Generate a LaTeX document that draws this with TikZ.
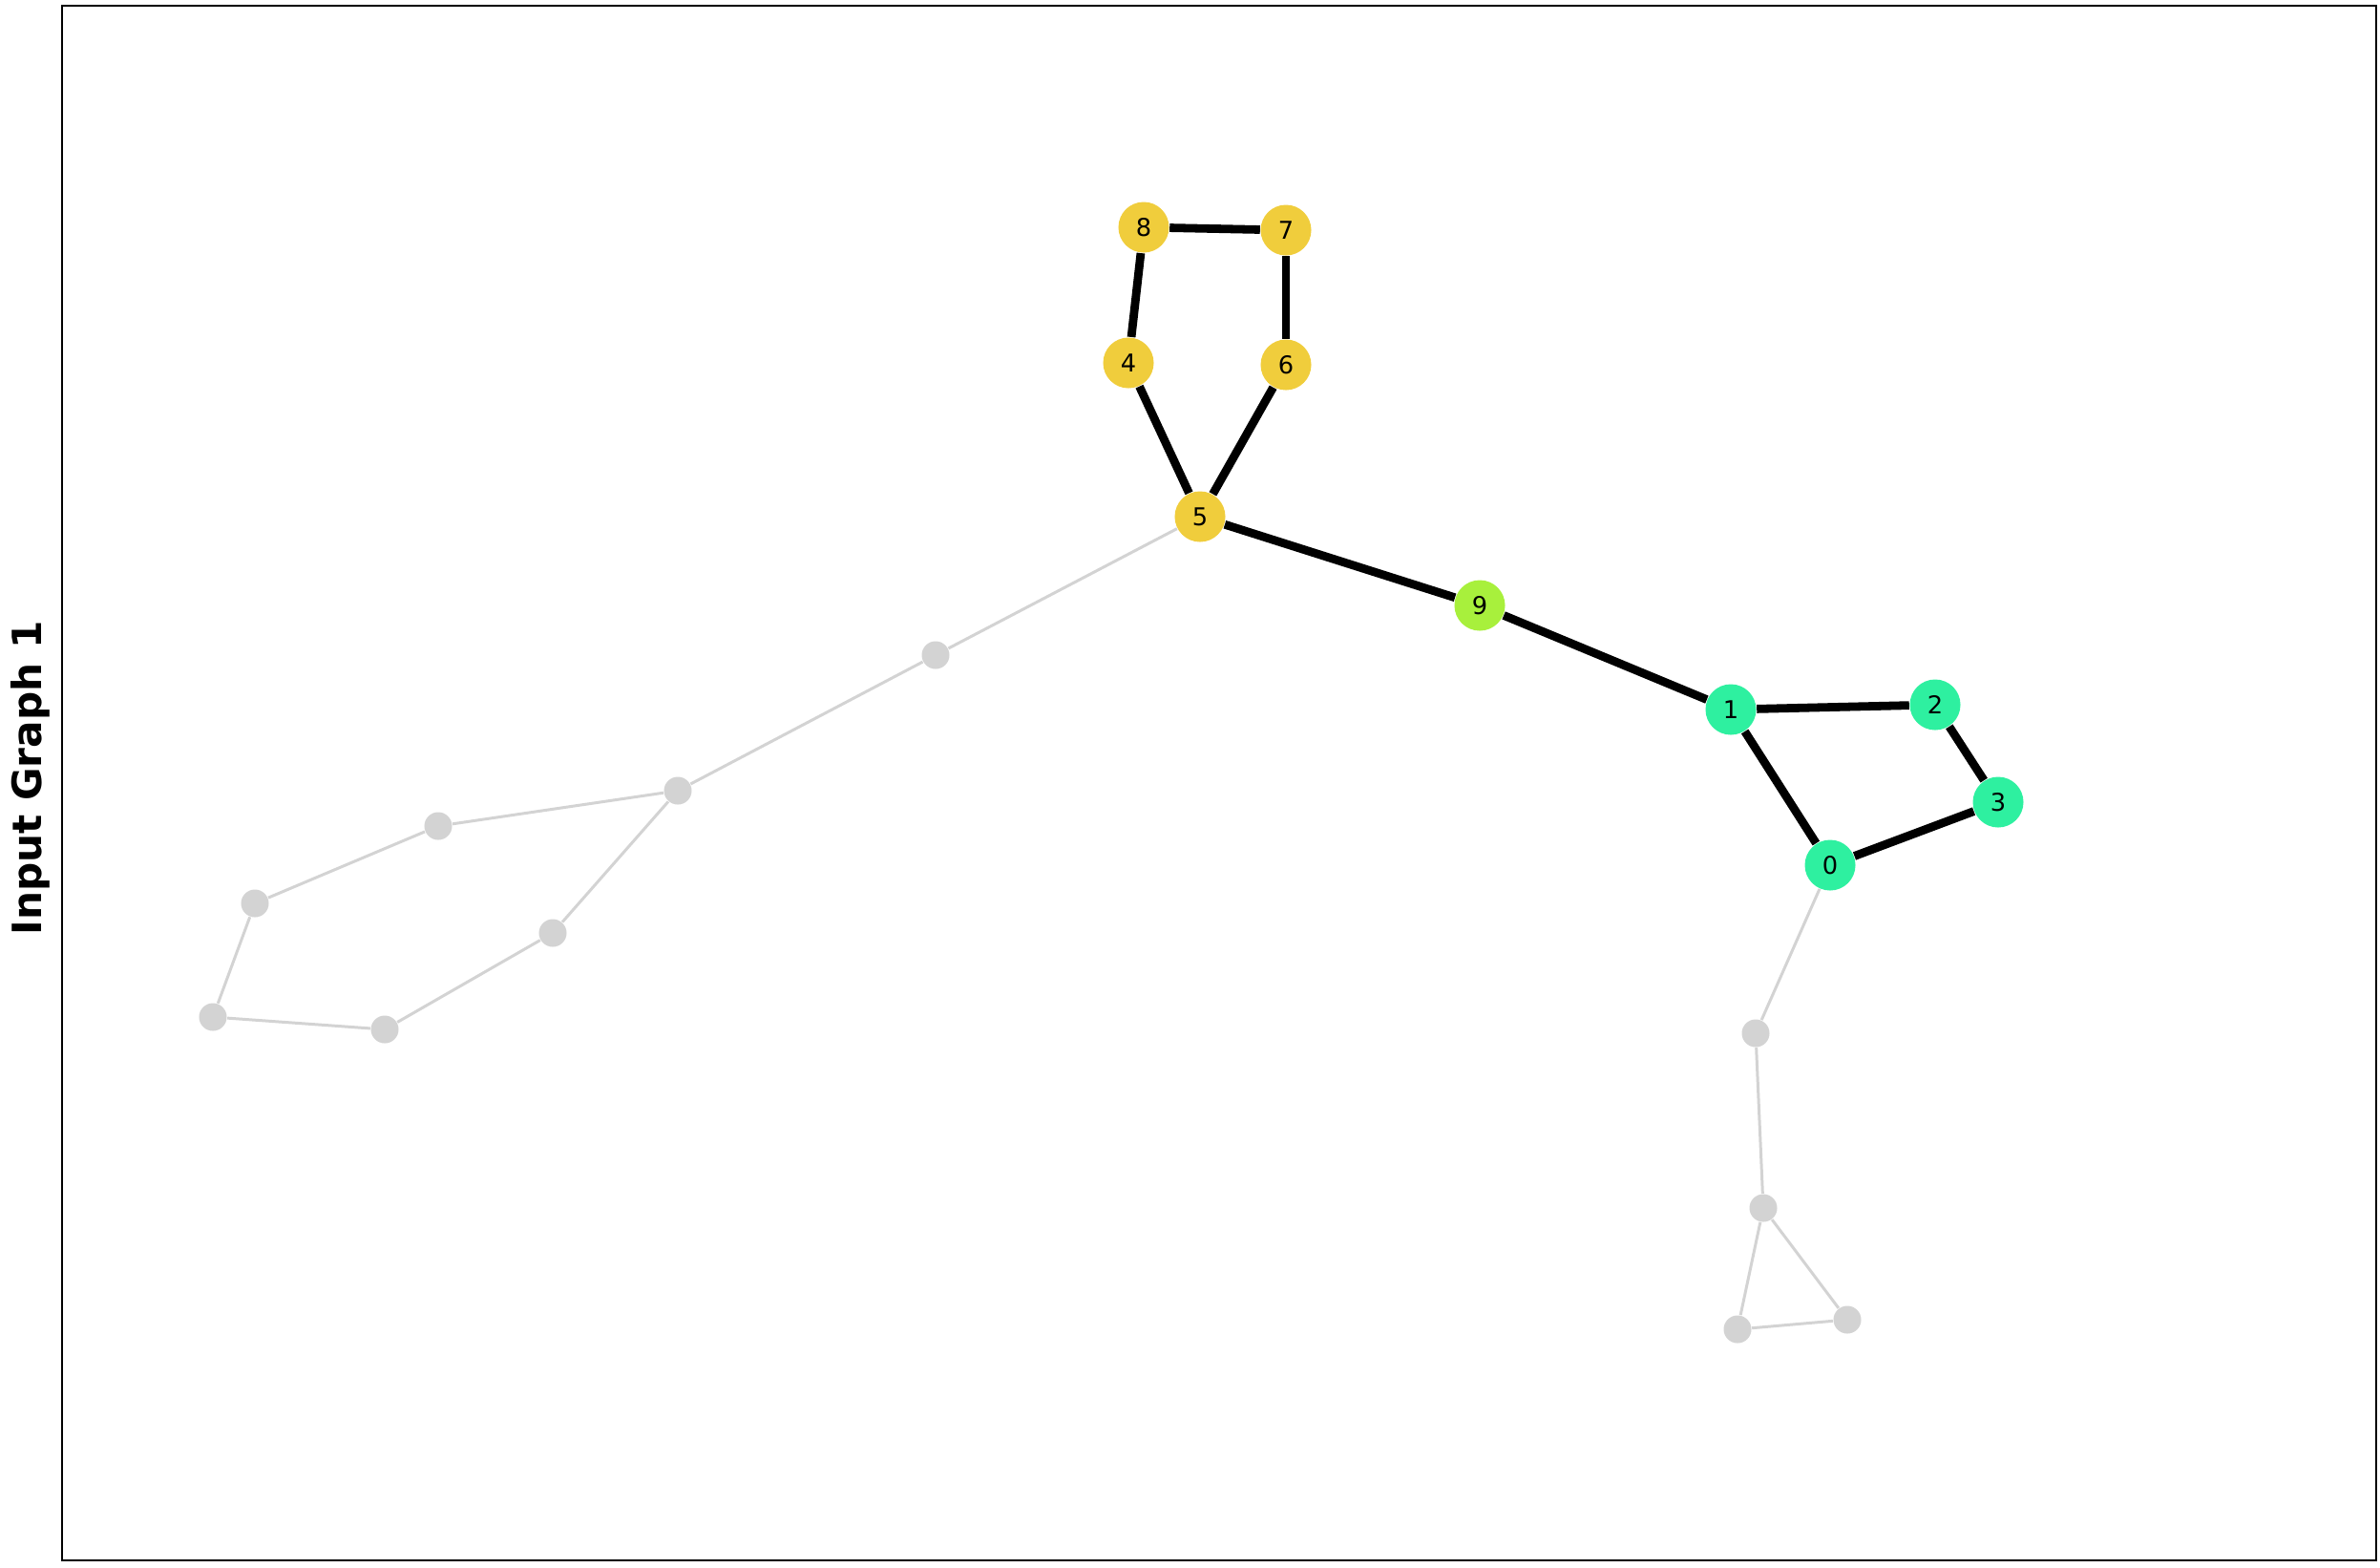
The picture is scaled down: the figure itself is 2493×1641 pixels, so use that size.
\documentclass[tikz,border=0pt]{standalone}
\usepackage{fontspec}
\setmainfont{DejaVu Sans}
\definecolor{ringyellow}{HTML}{F0CD3C}
\definecolor{ringgreen}{HTML}{2EF0A0}
\definecolor{bridgelime}{HTML}{A8F03C}
\definecolor{restgray}{HTML}{D3D3D3}
\begin{document}
\begin{tikzpicture}[x=0.01cm,y=-0.01cm,
  main/.style = {circle, inner sep=0pt, minimum size=0.53cm, font=\fontsize{7.3}{8}\selectfont},
  rest/.style = {circle, fill=restgray, inner sep=0pt, minimum size=0.29cm},
  hit/.style = {line width=2.5pt, black},
  miss/.style = {line width=0.85pt, restgray}]
        \useasboundingbox (0,0) rectangle (2493,1641);
        \draw[line width=0.6pt] (65,6) rectangle (2489,1634);
        \node[rotate=90, font=\fontsize{12}{14}\selectfont\bfseries] (title) at (32,815) {Input Graph 1};
        % grey part of the graph
        \node[rest] (a) at (980,686) {};
        \node[rest] (b) at (710,828) {};
        \node[rest] (c) at (459,865) {};
        \node[rest] (d) at (267,946) {};
        \node[rest] (e) at (223,1065) {};
        \node[rest] (f) at (403,1078) {};
        \node[rest] (g) at (579,977) {};
        \node[rest] (h) at (1839,1082) {};
        \node[rest] (i) at (1847,1265) {};
        \node[rest] (j) at (1820,1392) {};
        \node[rest] (k) at (1935,1382) {};
        % matched part
        \node[main, fill=ringgreen] (0) at (1917,906) {0};
        \node[main, fill=ringgreen] (1) at (1813,743) {1};
        \node[main, fill=ringgreen] (2) at (2027,738) {2};
        \node[main, fill=ringgreen] (3) at (2093,840) {3};
        \node[main, fill=ringyellow] (4) at (1182,380) {4};
        \node[main, fill=ringyellow] (5) at (1257,541) {5};
        \node[main, fill=ringyellow] (6) at (1347,382) {6};
        \node[main, fill=ringyellow] (7) at (1347,241) {7};
        \node[main, fill=ringyellow] (8) at (1198,238) {8};
        \node[main, fill=bridgelime] (9) at (1550,634) {9};
        \draw[miss] (5) -- (a);
        \draw[miss] (a) -- (b);
        \draw[miss] (b) -- (c);
        \draw[miss] (c) -- (d);
        \draw[miss] (d) -- (e);
        \draw[miss] (e) -- (f);
        \draw[miss] (f) -- (g);
        \draw[miss] (g) -- (b);
        \draw[miss] (0) -- (h);
        \draw[miss] (h) -- (i);
        \draw[miss] (i) -- (j);
        \draw[miss] (j) -- (k);
        \draw[miss] (k) -- (i);
        \draw[hit] (8) -- (7);
        \draw[hit] (8) -- (4);
        \draw[hit] (7) -- (6);
        \draw[hit] (4) -- (5);
        \draw[hit] (6) -- (5);
        \draw[hit] (5) -- (9);
        \draw[hit] (9) -- (1);
        \draw[hit] (1) -- (2);
        \draw[hit] (2) -- (3);
        \draw[hit] (3) -- (0);
        \draw[hit] (0) -- (1);
        \end{tikzpicture}
\end{document}
